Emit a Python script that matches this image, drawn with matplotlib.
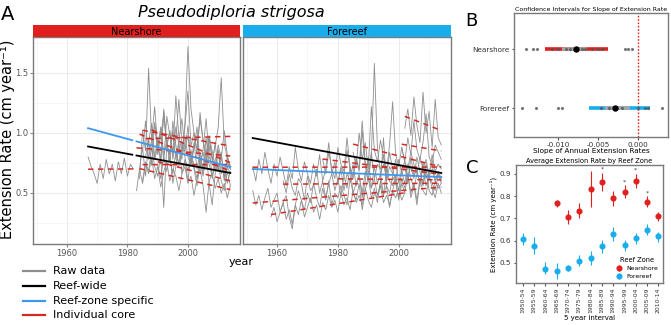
import numpy as np
import matplotlib
matplotlib.use('Agg')
import matplotlib.pyplot as plt
from matplotlib.lines import Line2D

W, H = 671, 325

# ---- panel A: raw cores (start year, annual extension) ----
ns_starts = [1967, 1984, 1983, 1985, 1984, 1986, 1985, 1988, 1990]
ns_cores = [
    [0.80, 0.72, 0.66, 0.58, 0.74, 0.62, 0.78, 0.66, 0.74, 0.60, 0.76, 0.66, 0.79, 0.64, 0.74, 0.70],
    [0.62, 1.02, 0.85, 1.54, 0.95, 0.78, 0.88, 1.05, 0.82, 0.93, 0.76, 1.10, 0.90, 0.72, 0.85, 0.98,
     0.80, 0.74, 0.92, 0.70, 0.84, 0.66, 0.78, 0.90, 0.62, 0.74, 0.68, 0.82, 0.60, 0.72, 0.66],
    [0.52, 0.70, 0.88, 0.64, 0.92, 1.08, 0.80, 0.96, 0.74, 1.18, 0.90, 0.84, 1.02, 0.78, 0.94, 1.12,
     0.86, 0.98, 0.72, 0.88, 1.05, 0.76, 0.84, 0.70, 0.95, 0.80, 0.68, 0.86, 0.72, 0.64, 0.80, 0.70],
    [0.85, 1.10, 0.78, 0.95, 1.22, 0.88, 1.02, 0.76, 1.14, 0.98, 0.82, 1.05, 0.90, 0.78, 1.08, 1.72,
     1.20, 1.00, 0.86, 1.12, 0.94, 0.80, 0.98, 0.85, 0.72, 0.90, 0.78, 1.02, 0.82, 0.70],
    [0.70, 0.58, 0.74, 0.66, 0.80, 0.62, 0.72, 0.55, 0.68, 0.76, 0.60, 0.70, 0.64, 0.52, 0.66, 0.72,
     0.58, 0.64, 0.48, 0.62, 0.70, 0.56, 0.34, 0.60, 0.66, 0.54, 0.62, 0.50, 0.58, 0.46, 0.56],
    [0.80, 0.95, 0.73, 1.09, 0.87, 0.79, 1.20, 0.91, 1.01, 0.83, 1.31, 0.97, 0.85, 1.05, 1.35, 0.89,
     1.00, 0.81, 1.17, 0.93, 0.83, 0.97, 0.77, 0.89, 1.05, 1.46, 0.91, 0.79, 0.73],
    [0.60, 0.76, 0.68, 0.88, 0.72, 0.64, 0.82, 0.38, 0.90, 0.78, 0.66, 0.84, 0.74, 0.92, 0.80, 0.68,
     0.86, 0.72, 0.62, 0.80, 0.70, 0.96, 0.74, 0.64, 0.78, 0.84, 0.66, 0.72, 0.58, 0.68],
    [0.90, 1.08, 0.82, 0.98, 1.15, 0.88, 1.02, 0.78, 0.94, 1.28, 0.92, 0.84, 1.06, 0.76, 0.88, 0.98,
     0.70, 0.86, 1.12, 0.80, 0.74, 0.92, 0.68, 0.84, 0.62, 0.76, 0.70],
    [0.74, 0.62, 0.80, 0.68, 0.86, 0.58, 0.72, 0.92, 0.66, 0.78, 0.60, 0.82, 0.70, 0.56, 0.76, 0.64,
     0.84, 0.58, 0.40, 0.66, 0.74, 0.60, 0.52, 0.68, 0.56],
]

fr_starts = [1952, 1952, 1958, 1962, 1975, 1985, 2002, 1980, 2001]
fr_cores = [
    [0.72, 0.60, 0.78, 0.66, 0.84, 0.70, 0.58, 0.74, 0.64, 0.80,
     0.68, 0.56, 0.72, 0.62, 0.88, 0.70, 0.60, 0.76, 0.66, 0.58,
     0.74, 0.64, 0.82, 0.60, 0.70, 0.92, 0.66, 0.76, 0.58, 0.72,
     0.64, 0.86, 0.70, 0.62, 0.78, 0.68, 1.02, 0.72, 0.60, 0.80,
     1.58, 0.88, 0.66, 0.74, 0.62, 0.84, 0.70, 0.60, 0.78, 0.66,
     0.72, 0.58, 0.80, 0.64, 0.70, 0.56, 0.76, 0.62, 0.68, 0.74,
     0.60, 0.66, 0.58],
    [0.52, 0.40, 0.48, 0.36, 0.46, 0.54, 0.38, 0.44, 0.50, 0.34,
     0.42, 0.48, 0.30, 0.20, 0.40, 0.52, 0.44, 0.36, 0.50, 0.42,
     0.58, 0.46, 0.38, 0.54, 0.44, 0.60, 0.40, 0.50, 0.46, 0.56,
     0.48, 0.40, 0.62, 0.50, 0.44, 0.58, 0.36, 0.52, 0.64, 0.46,
     0.54, 0.42, 0.60, 0.48, 0.56, 0.38, 0.52, 0.62, 0.44, 0.58,
     0.50, 0.66, 0.46, 0.56, 0.40, 0.60, 0.52, 0.48, 0.64, 0.54,
     0.46, 0.58, 0.50],
    [0.30, 0.38, 0.26, 0.34, 0.42, 0.28, 0.36, 0.24, 0.40, 0.32,
     0.44, 0.30, 0.38, 0.46, 0.34, 0.40, 0.28, 0.42, 0.36, 0.48,
     0.38, 0.44, 0.34, 0.50, 0.40, 0.46, 0.36, 0.52, 0.42, 0.48,
     0.40, 0.54, 0.44, 0.38, 0.50, 0.46, 0.56, 0.42, 0.48, 0.40,
     0.52, 0.46, 0.54, 0.44, 0.50],
    [0.60, 0.50, 0.66, 0.54, 0.48, 0.62, 0.58, 0.44, 0.64, 0.52,
     0.56, 0.70, 0.50, 0.60, 0.46, 0.58, 0.66, 0.52, 0.62, 0.48,
     0.64, 0.54, 0.72, 0.50, 0.58, 0.66, 0.46, 0.60, 0.80, 0.54,
     0.62, 0.48, 0.58, 0.96, 0.56, 0.50, 0.64, 0.58, 0.46, 0.62,
     0.54, 0.66, 0.50, 0.58, 0.44, 0.62, 0.56, 0.70, 0.52, 0.48,
     0.60, 0.54, 0.58],
    [0.78, 0.66, 0.84, 0.70, 0.62, 0.88, 0.74, 0.68, 0.96, 0.72,
     0.64, 0.80, 0.70, 1.10, 0.76, 0.66, 0.84, 0.62, 0.74, 0.70,
     0.82, 0.60, 0.72, 0.66, 0.78, 0.58, 0.70, 0.76, 0.64, 0.72,
     0.62, 0.80, 0.68, 0.58, 0.74, 0.64, 0.70, 0.60, 0.68, 0.62],
    [0.84, 0.72, 1.00, 0.78, 0.92, 0.70, 1.22, 0.86, 0.76, 0.94,
     0.80, 0.68, 0.90, 1.26, 0.82, 0.72, 0.88, 0.76, 0.70, 0.84,
     0.74, 0.66, 0.80, 0.70, 0.78, 0.64, 0.82, 0.68, 0.74, 0.70],
    [1.04, 1.20, 0.98, 1.30, 1.06, 0.92, 1.34, 1.00, 1.18, 0.88, 1.28, 0.96, 0.90],
    [0.58, 0.70, 0.52, 0.66, 0.60, 0.74, 0.56, 0.64, 0.50, 0.68,
     0.62, 0.54, 0.72, 0.58, 0.66, 0.48, 0.70, 0.60, 0.56, 0.64,
     0.52, 0.68, 0.58, 0.74, 0.62, 0.54, 0.66, 0.60, 0.70, 0.56,
     0.64, 0.58, 0.52, 0.66, 0.60],
    [0.88, 0.76, 0.96, 0.82, 1.10, 0.86, 0.78, 0.92, 1.16, 0.80, 0.74, 0.90, 0.84, 0.78],
]

# model lines (end points)
wide_years = [1952, 2014]
wide_vals = [0.958, 0.667]
ns_zone_years = [1967, 2014]
ns_zone_vals = [1.04, 0.717]
fr_zone_years = [1952, 2014]
fr_zone_vals = [0.70, 0.633]
ns_spans = [(1967, 1981.6), (1983, 2014)]
fr_spans = [(1952, 2001.4), (2002, 2014)]

# ---- panel B ----
b_zones = ['Nearshore', 'Forereef']
b_est = [-0.0078, -0.0029]
b_outer = [(-0.0116, -0.0038), (-0.0061, 0.0015)]
b_inner = [(-0.0095, -0.0064), (-0.0041, -0.0010)]
b_ns_cores = [-0.0140, -0.0131, -0.0126, -0.0108, -0.0100, -0.0090, -0.0085,
              -0.0070, -0.0066, -0.0058, -0.0050, -0.0045, -0.0016, -0.0013, -0.0008]
b_fr_cores = [-0.0145, -0.0128, -0.0100, -0.0095, -0.0046, -0.0036, -0.0020,
              0.0000, 0.0008, 0.0012, 0.0030]

# ---- panel C ----
intervals = ['1950-54', '1955-59', '1960-64', '1965-69', '1970-74', '1975-79', '1980-84',
             '1985-89', '1990-94', '1995-99', '2000-04', '2005-09', '2010-14']
fr_mean = [0.608, 0.575, 0.475, 0.465, 0.477, 0.510, 0.523, 0.575, 0.630, 0.580, 0.610, 0.650, 0.620]
fr_lo = [0.580, 0.540, 0.450, 0.430, 0.465, 0.485, 0.490, 0.545, 0.600, 0.555, 0.585, 0.625, 0.595]
fr_hi = [0.635, 0.615, 0.505, 0.500, 0.490, 0.535, 0.555, 0.605, 0.660, 0.605, 0.635, 0.675, 0.640]
ns_mean = [np.nan, np.nan, np.nan, 0.768, 0.708, 0.733, 0.830, 0.865, 0.790, 0.820, 0.868, 0.775, 0.710]
ns_lo = [np.nan, np.nan, np.nan, 0.750, 0.675, 0.700, 0.750, 0.825, 0.755, 0.790, 0.835, 0.750, 0.690]
ns_hi = [np.nan, np.nan, np.nan, 0.785, 0.740, 0.770, 0.915, 0.905, 0.825, 0.850, 0.900, 0.800, 0.730]
ns_signif = ['1985-89', '1995-99', '2000-04', '2005-09']

RED = '#e0201e'
STRIP_BLUE = '#19adec'
ZONE_BLUE = '#3d98f0'
GREY = '#8f8f8f'
CORE_RED = '#d42a24'


def box(x0, y0, x1, y1):
    return [x0 / W, 1 - y1 / H, (x1 - x0) / W, (y1 - y0) / H]


fig = plt.figure(figsize=(W / 100, H / 100), dpi=100)


def facet(rect, strip_rect, name, color, starts, cores, zone_years, zone_vals, spans, ylabels):
    ax = fig.add_axes(rect)
    st = fig.add_axes(strip_rect)
    st.set_facecolor(color)
    st.set_xticks([]); st.set_yticks([])
    for s in st.spines.values():
        s.set_visible(False)
    st.text(0.5, 0.45, name, ha='center', va='center', fontsize=7, transform=st.transAxes)

    for y0, vals in zip(starts, cores):
        yrs = np.arange(y0, y0 + len(vals))
        ax.plot(yrs, vals, color=GREY, lw=0.6, zorder=2)
    for y0, vals in zip(starts, cores):
        yrs = np.arange(y0, y0 + len(vals))
        k, b = np.polyfit(yrs, vals, 1)
        ax.plot(yrs, k * yrs + b, color=CORE_RED, lw=1.1, ls=(0, (3.5, 3)), zorder=3)
    for a, e in spans:
        xs = np.array([a, e])
        ax.plot(xs, np.interp(xs, wide_years, wide_vals), color='black', lw=1.3, zorder=4)
        ax.plot(xs, np.interp(xs, zone_years, zone_vals), color=ZONE_BLUE, lw=1.3, zorder=4)

    ax.set_xlim(1948.8, 2017.2)
    ax.set_ylim(0.075, 1.8)
    ax.set_xticks([1960, 1980, 2000])
    ax.set_yticks([0.5, 1.0, 1.5])
    ax.set_xticks([1950, 1970, 1990, 2010], minor=True)
    ax.set_yticks([0.25, 0.75, 1.25, 1.75], minor=True)
    ax.grid(True, which='major', color='#e6e6e6', lw=0.6, zorder=0)
    ax.grid(True, which='minor', color='#f2f2f2', lw=0.4, zorder=0)
    ax.tick_params(which='minor', length=0)
    ax.tick_params(which='major', length=2, color='#888888', labelsize=6,
                   labelcolor='#555555', pad=1.5)
    if not ylabels:
        ax.set_yticklabels([])
        ax.tick_params(axis='y', length=0)
    for s in ax.spines.values():
        s.set_color('#7a7a7a'); s.set_linewidth(1.0)
    return ax


facet(box(33, 37, 240, 244), box(33, 25, 240, 37), 'Nearshore', RED,
      ns_starts, ns_cores, ns_zone_years, ns_zone_vals, ns_spans, True)
facet(box(243, 37, 451, 244), box(243, 25, 451, 37), 'Forereef', STRIP_BLUE,
      fr_starts, fr_cores, fr_zone_years, fr_zone_vals, fr_spans, False)

fig.text(1 / W, 1 - 14 / H, 'A', fontsize=14, va='center', ha='left')
fig.text(231 / W, 1 - 13 / H, 'Pseudodiploria strigosa', style='italic', fontsize=11.5,
         ha='center', va='center')
fig.text(8 / W, 1 - 139 / H, 'Extension Rate (cm year\u207b\u00b9)', rotation=90, fontsize=10.5,
         ha='center', va='center')
fig.text(241 / W, 1 - 262 / H, 'year', fontsize=8, ha='center', va='center')

legend_labels = ['Raw data', 'Reef-wide', 'Reef-zone specific', 'Individual core']
legend_colors = [GREY, 'black', ZONE_BLUE, CORE_RED]
legend_rows = [271, 286, 301, 315]
for lab, col, yy in zip(legend_labels, legend_colors, legend_rows):
    fig.add_artist(Line2D([23 / W, 45 / W], [1 - yy / H] * 2, color=col, lw=1.6))
    fig.text(53 / W, 1 - yy / H, lab, fontsize=8, va='center', ha='left')

# ---- panel B ----
axb = fig.add_axes(box(514, 13, 668, 137))
ypos = [2, 1]
colors_b = [RED, STRIP_BLUE]
for yy, est, (lo, hi), (ilo, ihi), col in zip(ypos, b_est, b_outer, b_inner, colors_b):
    axb.plot([lo, hi], [yy, yy], color=col, lw=2.6, solid_capstyle='butt', zorder=2)
    axb.plot([ilo, ihi], [yy, yy], color='#a8a8a8', lw=2.6, solid_capstyle='butt', zorder=3)
    axb.plot([est], [yy], 'o', color='black', ms=3.6, zorder=5)
axb.plot(b_ns_cores, [2] * len(b_ns_cores), 'o', color='#555555', ms=1.3, alpha=0.7, zorder=4)
axb.plot(b_fr_cores, [1] * len(b_fr_cores), 'o', color='#555555', ms=1.3, alpha=0.7, zorder=4)
axb.axvline(0, color=RED, ls=(0, (1.2, 1.2)), lw=1.0, zorder=1)
axb.set_xlim(-0.0155, 0.0037)
axb.set_ylim(0.51, 2.61)
axb.set_xticks([-0.010, -0.005, 0.000])
axb.set_xticklabels(['-0.010', '-0.005', '0.000'])
axb.set_yticks(ypos)
axb.set_yticklabels(b_zones)
axb.tick_params(labelsize=5.2, length=1.8, pad=1.5, color='#555555', labelcolor='#333333')
axb.set_title('Confidence Intervals for Slope of Extension Rate', fontsize=4.5, pad=1.5)
axb.set_xlabel('Slope of Annual Extension Rates', fontsize=5.2, labelpad=0.5)
for s in axb.spines.values():
    s.set_color('#7a7a7a'); s.set_linewidth(1.0)
fig.text(471 / W, 1 - 21 / H, 'B', fontsize=13, ha='center', va='center')

# ---- panel C ----
axc = fig.add_axes(box(516, 165, 663, 283))
xc = np.arange(len(intervals))
fm = np.array(fr_mean)
nm = np.array(ns_mean)
axc.errorbar(xc, fm, yerr=[fm - np.array(fr_lo), np.array(fr_hi) - fm], fmt='o', color=STRIP_BLUE,
             ms=3.4, elinewidth=0.8, capsize=0, label='Forereef')
axc.errorbar(xc, nm, yerr=[nm - np.array(ns_lo), np.array(ns_hi) - nm], fmt='o', color=RED,
             ms=3.4, elinewidth=0.8, capsize=0, label='Nearshore')
for lab in ns_signif:
    i = intervals.index(lab)
    axc.text(xc[i], ns_hi[i] + 0.004, '*', fontsize=4.5, ha='center', va='bottom', color='#333333')
axc.set_xlim(-0.6, 12.4)
axc.set_ylim(0.41, 0.94)
axc.set_xticks(xc)
axc.set_xticklabels(intervals, rotation=90)
axc.set_yticks([0.5, 0.6, 0.7, 0.8, 0.9])
axc.tick_params(axis='y', labelsize=5.2, length=1.8, pad=1.5, color='#555555', labelcolor='#333333')
axc.tick_params(axis='x', labelsize=4.4, length=1.8, pad=1.5, color='#555555', labelcolor='#333333')
axc.set_title('Average Extension Rate by Reef Zone', fontsize=4.8, pad=1.5)
axc.set_xlabel('5 year interval', fontsize=5, labelpad=1.5)
axc.set_ylabel('Extension Rate (cm year\u207b\u00b9)', fontsize=5, labelpad=2)
for s in axc.spines.values():
    s.set_color('#7a7a7a'); s.set_linewidth(1.0)
h, l = axc.get_legend_handles_labels()
axc.legend(h[::-1], l[::-1], title='Reef Zone', fontsize=4.4, title_fontsize=4.8, frameon=False,
           loc='lower right', handlelength=1.0, borderaxespad=0.3, labelspacing=0.4)
fig.text(472 / W, 1 - 168 / H, 'C', fontsize=13, ha='center', va='center')

fig.savefig('out.png', dpi=100)
